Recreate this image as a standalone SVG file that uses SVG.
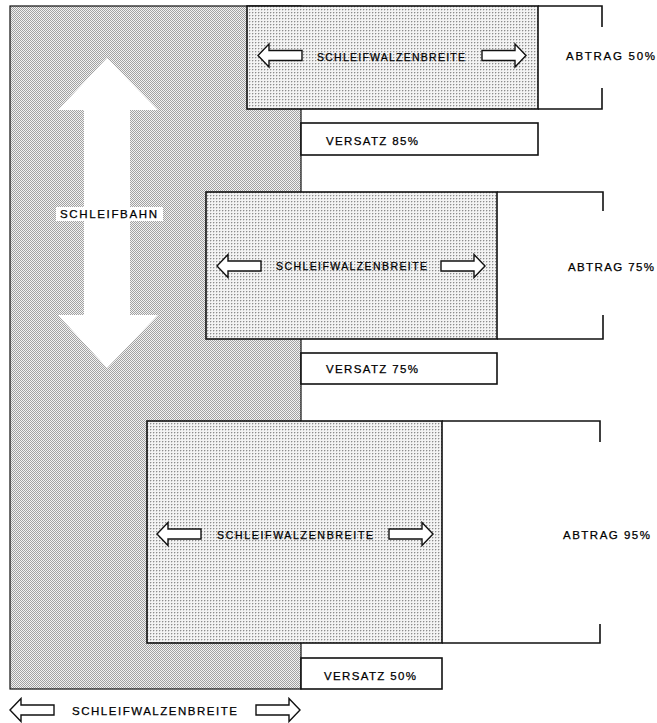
<svg xmlns="http://www.w3.org/2000/svg" width="657" height="723" viewBox="0 0 657 723">
<style>
text{font-family:"Liberation Sans",Arial,sans-serif;fill:#000;stroke:#000;stroke-width:0.25;}
.t{font-size:11.5px;}
.w{font-size:10.5px;}
.bahn{fill:url(#checker);stroke:#111;stroke-width:1.2;}
.box{fill:url(#grid);stroke:#111;stroke-width:1.6;}
.ver{fill:#fff;stroke:#111;stroke-width:1.6;}
.br{fill:none;stroke:#111;stroke-width:1.6;}
.arr{fill:#fff;stroke:#111;stroke-width:1.4;stroke-linejoin:miter;}
</style>
<defs>
<pattern id="checker" patternUnits="userSpaceOnUse" width="2" height="2">
<rect width="2" height="2" fill="#f2f2f2"/>
<rect width="1" height="1" fill="#a2a2a2"/>
<rect x="1" y="1" width="1" height="1" fill="#a2a2a2"/>
</pattern>
<pattern id="grid" patternUnits="userSpaceOnUse" width="3" height="3">
<rect width="3" height="3" fill="#f3f3f3"/>
<rect width="1" height="1" fill="#8c8c8c"/>
<rect x="1" width="1" height="1" fill="#d0d0d0"/>
<rect y="1" width="1" height="1" fill="#d0d0d0"/>
</pattern>
<path id="la" d="M0,0 L11,-11.5 L11,-5 L44,-5 L44,5 L11,5 L11,11.5 Z"/>
<path id="ra" d="M0,0 L-11,-11.5 L-11,-5 L-44,-5 L-44,5 L-11,5 L-11,11.5 Z"/>
</defs>
<g id="schleifbahn">
<rect class="bahn" x="10" y="6" width="291" height="683"/>
<path fill="#fff" d="M107,58 L158,110 L130,110 L130,315 L158,315 L107,368 L58,315 L84,315 L84,110 L58,110 Z"/>
<rect fill="#fff" x="56" y="207" width="107" height="14"/>
<text class="t" x="60" y="217.5" textLength="97" lengthAdjust="spacing">SCHLEIFBAHN</text>
</g>
<g id="versatz85">
<rect class="ver" x="301" y="123" width="237" height="32"/>
<text class="t" x="326" y="145" textLength="92" lengthAdjust="spacing">VERSATZ 85%</text>
</g>
<g id="versatz75">
<rect class="ver" x="301" y="353" width="196" height="31"/>
<text class="t" x="326" y="373" textLength="92" lengthAdjust="spacing">VERSATZ 75%</text>
</g>
<g id="versatz50">
<rect class="ver" x="301" y="658" width="141" height="31"/>
<text class="t" x="324" y="680" textLength="92" lengthAdjust="spacing">VERSATZ 50%</text>
</g>
<g id="box1">
<rect class="box" x="247" y="6" width="291" height="103"/>
<path class="br" d="M538,6 H602 V27 M602,88 V109 H538"/>
<use href="#la" class="arr" x="258" y="55.5"/>
<use href="#ra" class="arr" x="526" y="55.5"/>
<text class="w" x="317" y="60.5" textLength="148" lengthAdjust="spacing">SCHLEIFWALZENBREITE</text>
<text class="t" x="566" y="60" textLength="89" lengthAdjust="spacing">ABTRAG 50%</text>
</g>
<g id="box2">
<rect class="box" x="206" y="192" width="291" height="147"/>
<path class="br" d="M497,192 H603 V211 M603,315 V339 H497"/>
<use href="#la" class="arr" x="217" y="266"/>
<use href="#ra" class="arr" x="485" y="266"/>
<text class="w" x="276" y="270" textLength="151" lengthAdjust="spacing">SCHLEIFWALZENBREITE</text>
<text class="t" x="568" y="271" textLength="86" lengthAdjust="spacing">ABTRAG 75%</text>
</g>
<g id="box3">
<rect class="box" x="147" y="421" width="295" height="222"/>
<path class="br" d="M442,421 H600 V442 M600,624 V643 H442"/>
<use href="#la" class="arr" x="157" y="534"/>
<use href="#ra" class="arr" x="433" y="534"/>
<text class="w" x="217" y="539" textLength="156" lengthAdjust="spacing">SCHLEIFWALZENBREITE</text>
<text class="t" x="563" y="539" textLength="87" lengthAdjust="spacing">ABTRAG 95%</text>
</g>
<g id="bottom-label">
<use href="#la" class="arr" x="10" y="710"/>
<use href="#ra" class="arr" x="300" y="710"/>
<text class="t" x="72" y="715" textLength="165" lengthAdjust="spacing">SCHLEIFWALZENBREITE</text>
</g>
</svg>
